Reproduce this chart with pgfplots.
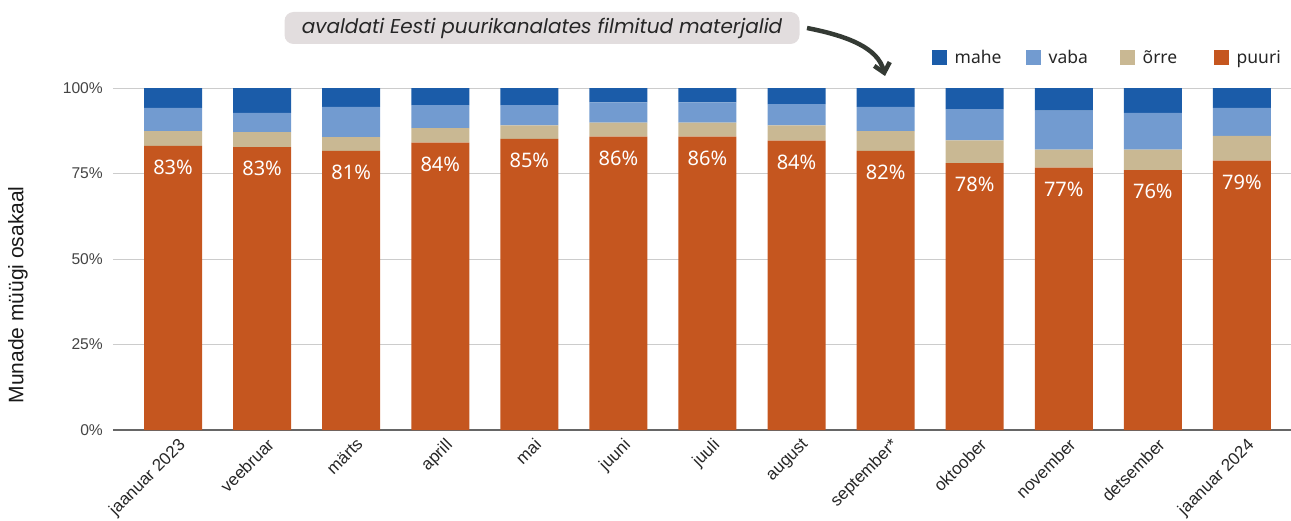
\documentclass[border=0pt]{standalone}
\usepackage{pgfplots}
\usepackage{pgfplotstable}
\pgfplotsset{compat=1.18}
\usepackage{fontspec}
\setmainfont{Liberation Sans}
\newfontfamily\notofont{Noto Sans}
\newfontfamily\annfont{Poppins}
\usetikzlibrary{arrows.meta}

\definecolor{mahe}{HTML}{1B5CA9}
\definecolor{vaba}{HTML}{729BD0}
\definecolor{orre}{HTML}{C9B893}
\definecolor{puuri}{HTML}{C5561F}
\definecolor{tickc}{HTML}{444444}
\definecolor{gridc}{HTML}{CCCCCC}
\definecolor{boxc}{HTML}{E2DDDE}
\definecolor{arrowc}{HTML}{343A34}

% month, then shares (%) of each egg type
\pgfplotstableread{
x  puuri orre vaba mahe lab
0  83.1  4.3  6.8  5.8  83
1  82.7  4.4  5.6  7.3  83
2  81.6  4.0  8.9  5.5  81
3  84.0  4.3  6.7  5.0  84
4  85.1  4.0  5.9  5.0  85
5  85.8  4.1  5.9  4.2  86
6  85.8  4.1  5.9  4.2  86
7  84.6  4.5  6.2  4.7  84
8  81.6  5.8  7.1  5.5  82
9  78.0  6.7  9.1  6.2  78
10 76.7  5.3  11.4 6.6  77
11 76.0  6.0  10.7 7.3  76
12 78.8  7.2  8.2  5.8  79
}\munad

\pgfplotsset{frame/.style={
  scale only axis, width=1178pt, height=342pt,
  at={(0,0)}, anchor=south west,
  xmin=-0.674, xmax=12.551, ymin=0, ymax=100}}

\begin{document}
\begin{tikzpicture}
\useasboundingbox (-113pt,-90pt) rectangle (1178pt,430pt);
\begin{axis}[
  frame,
  ybar stacked, bar width=58pt,
  axis x line*=bottom, axis y line*=left,
  x axis line style={color=black!60, line width=2pt},
  y axis line style={draw=none},
  major tick length=0pt,
  ytick={0,25,50,75,100},
  yticklabel={\pgfmathprintnumber{\tick}\%},
  ymajorgrids, grid style={gridc, line width=1pt},
  yticklabel style={font=\fontsize{15.6}{18}\selectfont, color=tickc, inner sep=0pt, xshift=-10pt},
  /pgf/number format/assume math mode=true,
  xtick={0,...,12},
  xticklabels={jaanuar 2023, veebruar, märts, aprill, mai, juuni, juuli, august, september*, oktoober, november, detsember, jaanuar 2024},
  xticklabel style={font=\fontsize{17}{19}\selectfont, color=black!85, rotate=45, anchor=north east, inner sep=0pt, yshift=-8pt, xshift=-2pt},
  ylabel={Munade müügi osakaal},
  ylabel style={font=\fontsize{21}{24}\selectfont, color=black!90, at={(axis description cs:-0.0807,0.395)}, anchor=center},
  reverse legend,
  legend columns=-1,
  legend image code/.code={\fill[#1] (0pt,-7.5pt) rectangle (15pt,7.5pt);},
  legend style={draw=none, fill=none, at={(axis description cs:1,1)}, anchor=east,
    xshift=-10pt, yshift=30pt, inner sep=0pt,
    font=\notofont\fontsize{17.5}{20}\selectfont, text=black!85,
    nodes={inner sep=0pt},
    /tikz/every odd column/.append style={column sep=8pt},
    /tikz/every even column/.append style={column sep=0pt}},
]
\addplot[fill=puuri, draw=none] table[x=x, y=puuri] {\munad};
\addlegendentry{puuri}
\addplot[fill=orre, draw=none] table[x=x, y=orre] {\munad};
\addlegendentry{\makebox[71pt][l]{õrre}}
\addplot[fill=vaba, draw=none] table[x=x, y=vaba] {\munad};
\addlegendentry{\makebox[71pt][l]{vaba}}
\addplot[fill=mahe, draw=none] table[x=x, y=mahe] {\munad};
\addlegendentry{\makebox[71pt][l]{mahe}}
\end{axis}
% share labels on top of the puuri segments
\begin{axis}[frame, axis lines=none, xtick=\empty, ytick=\empty]
\addplot[draw=none, mark=none,
  point meta=explicit symbolic,
  nodes near coords={\pgfplotspointmeta\%},
  every node near coord/.append style={font=\notofont\fontsize{20}{22}\selectfont, color=white, anchor=north, inner sep=0pt, yshift=-14pt}]
  table[x=x, y=puuri, meta=lab] {\munad};
\end{axis}
% annotation above the chart
\node[fill=boxc, rounded corners=9pt, minimum width=515pt, minimum height=32pt, inner sep=0pt,
  font=\annfont\itshape\fontsize{20}{24}\selectfont, text=black!85] at (429pt,402pt)
  {avaldati Eesti puurikanalates filmitud materjalid};
\draw[arrowc, line width=4.5pt, -{Straight Barb[length=9pt, width=16pt]}]
  (694pt,402pt) .. controls (735pt,394pt) and (765pt,382pt) .. (772pt,354pt);
\end{tikzpicture}
\end{document}
